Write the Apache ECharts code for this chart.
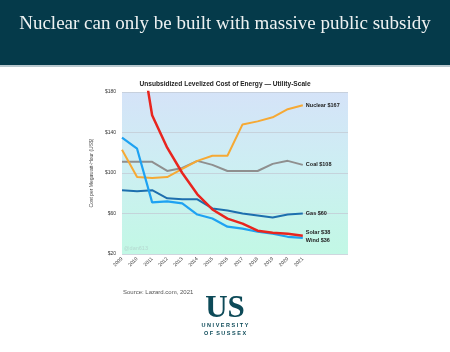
<!DOCTYPE html>
<html>
<head>
<meta charset="utf-8">
<script src="https://cdn.jsdelivr.net/npm/echarts@6/dist/echarts.min.js"></script>
<style>
  html, body { margin: 0; padding: 0; background: #ffffff; }
  #chart { width: 450px; height: 352px; }
</style>
</head>
<body>
<div id="chart"></div>
<script>
// years on the axis, the last three are empty space for the end labels
const years = ["2009", "2010", "2011", "2012", "2013", "2014", "2015", "2016", "2017", "2018", "2019", "2020", "2021", "2022", "2023", "2024"];
const yTicks = [20, 60, 100, 140, 180];

// LCOE in US$ per MWh
const nuclear = [123, 96, 95, 96, 104, 112, 117, 117, 148, 151, 155, 163, 167];
const coal = [111, 111, 111, 102, 105, 112, 108, 102, 102, 102, 109, 112, 108];
const gas = [83, 82, 83, 75, 74, 74, 65, 63, 60, 58, 56, 59, 60];
const solar = [359, 248, 157, 125, 100, 79, 64, 55, 50, 43, 41, 40, 38];
const wind = [135, 124, 71, 72, 70, 59, 55, 47, 45, 42, 40, 37, 36];

const chart = echarts.init(document.getElementById("chart"));

function line(name, data, color, width, labelText, dy) {
    return {
        name: name,
        type: "line",
        data: data,
        symbol: "none",
        clip: true,
        lineStyle: { color: color, width: width },
        z: name === "Solar" ? 5 : 3,
        endLabel: {
            show: true,
            formatter: labelText,
            distance: 3,
            offset: [0, dy],
            color: "#222",
            fontSize: 5.5,
            fontWeight: "bold",
            fontFamily: "Liberation Sans, Arial, sans-serif",
        },
    };
}

chart.setOption({
    animation: false,
    backgroundColor: "#ffffff",
    graphic: [
        // slide header
        { type: "rect", left: 0, top: 0, shape: { width: 450, height: 65 }, style: { fill: "#053a4a" } },
        { type: "rect", left: 0, top: 65, shape: { width: 450, height: 2 }, style: { fill: "#b9c8ce" } },
        {
            type: "text", left: "center", top: 15,
            style: { text: "Nuclear can only be built with massive public subsidy", fill: "#eef2f2", fontSize: 19, fontFamily: "Liberation Serif, Times New Roman, serif" },
        },
        // chart title
        {
            type: "text", left: "center", top: 81,
            style: { text: "Unsubsidized Levelized Cost of Energy \u2014 Utility-Scale", fill: "#222", fontSize: 6.6, fontWeight: "bold", fontFamily: "Liberation Sans, Arial, sans-serif" },
        },
        // watermark
        {
            type: "text", left: 124, top: 245, z: 10,
            style: { text: "@dan613", fill: "rgba(170,190,190,0.55)", fontSize: 5.5, fontFamily: "Liberation Sans, Arial, sans-serif" },
        },
        {
            type: "text", left: 123, top: 289,
            style: { text: "Source: Lazard.com, 2021", fill: "#555", fontSize: 6, fontFamily: "Liberation Sans, Arial, sans-serif" },
        },
        // university logo
        {
            type: "text", left: "center", top: 293,
            style: { text: "US", fill: "#0d4a58", fontSize: 31, fontWeight: "bold", fontFamily: "Liberation Serif, Times New Roman, serif" },
        },
        {
            type: "text", left: "center", top: 322,
            style: { text: "U N I V E R S I T Y", fill: "#0d4a58", fontSize: 5.5, fontWeight: "bold", fontFamily: "Liberation Sans, Arial, sans-serif" },
        },
        {
            type: "text", left: "center", top: 330,
            style: { text: "O F  S U S S E X", fill: "#0d4a58", fontSize: 5.5, fontWeight: "bold", fontFamily: "Liberation Sans, Arial, sans-serif" },
        },
    ],
    grid: {
        left: 122,
        right: 102,
        top: 92,
        bottom: 98,
        show: true,
        borderWidth: 0,
        backgroundColor: {
            type: "linear", x: 0, y: 0, x2: 0, y2: 1,
            colorStops: [
                { offset: 0, color: "#d5e3f8" },
                { offset: 0.45, color: "#cdeef3" },
                { offset: 1, color: "#c2f8e5" },
            ],
        },
    },
    xAxis: {
        type: "category",
        data: years,
        boundaryGap: false,
        axisLine: { show: false },
        axisTick: { show: false },
        axisLabel: {
            rotate: 45,
            interval: 0,
            margin: 4,
            fontSize: 5,
            color: "#333",
            fontFamily: "Liberation Sans, Arial, sans-serif",
            formatter: (v) => (Number(v) <= 2021 ? v : ""),
        },
    },
    yAxis: {
        type: "value",
        min: yTicks[0],
        max: yTicks[yTicks.length - 1],
        interval: 40,
        name: "Cost per Megawatt-Hour (US$)",
        nameLocation: "middle",
        nameGap: 12,
        nameTextStyle: { fontSize: 5, color: "#444", fontFamily: "Liberation Sans, Arial, sans-serif" },
        axisLine: { show: false },
        axisTick: { show: false },
        axisLabel: {
            fontSize: 5,
            color: "#333",
            margin: 6,
            fontFamily: "Liberation Sans, Arial, sans-serif",
            formatter: "${value}",
        },
        splitLine: { lineStyle: { color: "#c3ccd6", width: 0.8 } },
    },
    series: [
        line("Coal", coal, "#8f8f8f", 2, "Coal $108", 0),
        line("Nuclear", nuclear, "#f6a934", 2, "Nuclear $167", 0),
        line("Gas", gas, "#1d6fae", 2, "Gas $60", 0),
        line("Wind", wind, "#1ea2f2", 2.2, "Wind $36", 3),
        line("Solar", solar, "#e8251f", 2.5, "Solar $38", -3),
    ],
});
</script>
</body>
</html>
